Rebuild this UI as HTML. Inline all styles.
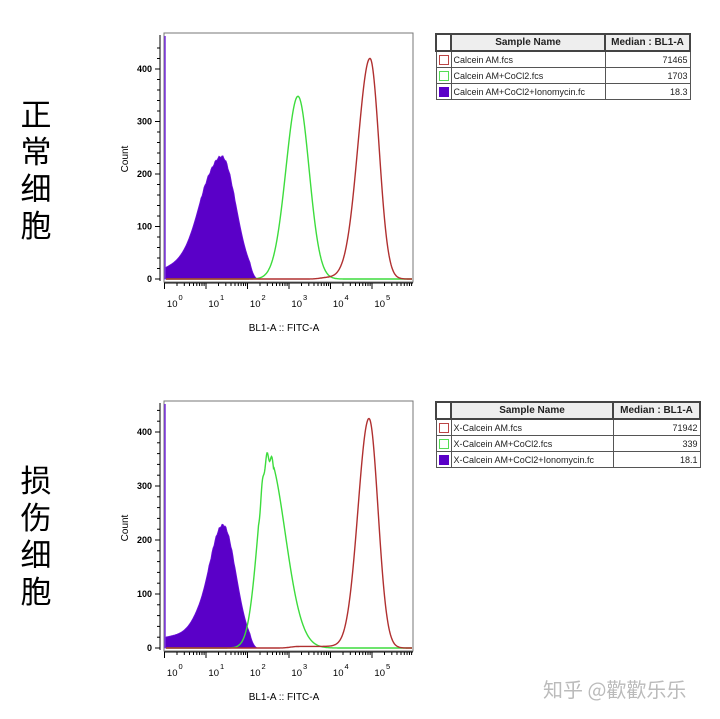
<!DOCTYPE html>
<html><head><meta charset="utf-8"><style>
body{margin:0;background:#fff;width:720px;height:719px;overflow:hidden;position:relative;font-family:"Liberation Sans",Arial,sans-serif}
.cn{position:absolute;font-family:"Noto Sans CJK SC","WenQuanYi Zen Hei",sans-serif;font-size:31px;line-height:37px;width:40px;text-align:center;color:#000}
table{position:absolute;border-collapse:collapse;font-size:9px;color:#222}
td{border:1px solid #555;height:15px;padding:0 2px;white-space:nowrap;overflow:hidden}
th{border:2px solid #444;background:#eee;font-size:10px;height:15px;padding:0}
.b{display:inline-block;width:8px;height:8px;border:1px solid;vertical-align:middle}
</style></head><body>
<div class="cn" style="left:16px;top:94px">正<br>常<br>细<br>胞</div>
<div class="cn" style="left:16px;top:460px">损<br>伤<br>细<br>胞</div>
<svg width="720" height="719" style="position:absolute;left:0;top:0" font-family="Liberation Sans, Arial, sans-serif">
<g id="p1"></g><g id="p2"></g>
<text x="543" y="697" font-family="Noto Sans CJK SC, sans-serif" font-size="20" fill="#bbb">知乎 @歡歡乐乐</text>
</svg>
<table style="left:435px;top:33px;width:256px">
<tr><th style="width:12px;background:#fff"></th><th style="width:152px">Sample Name</th><th>Median : BL1-A</th></tr>
<tr><td><span class="b" style="border-color:#b44"></span></td><td>Calcein AM.fcs</td><td style="text-align:right">71465</td></tr>
<tr><td><span class="b" style="border-color:#5d5"></span></td><td>Calcein AM+CoCl2.fcs</td><td style="text-align:right">1703</td></tr>
<tr><td><span class="b" style="background:#5a00c8;border-color:#5a00c8"></span></td><td style="max-width:152px">Calcein AM+CoCl2+Ionomycin.fc</td><td style="text-align:right">18.3</td></tr>
</table>
<table style="left:435px;top:401px;width:266px">
<tr><th style="width:12px;background:#fff"></th><th style="width:160px">Sample Name</th><th>Median : BL1-A</th></tr>
<tr><td><span class="b" style="border-color:#b44"></span></td><td>X-Calcein AM.fcs</td><td style="text-align:right">71942</td></tr>
<tr><td><span class="b" style="border-color:#5d5"></span></td><td>X-Calcein AM+CoCl2.fcs</td><td style="text-align:right">339</td></tr>
<tr><td><span class="b" style="background:#5a00c8;border-color:#5a00c8"></span></td><td style="max-width:160px">X-Calcein AM+CoCl2+Ionomycin.fc</td><td style="text-align:right">18.1</td></tr>
</table>
<script>
function g(x,mu,h,sl,sr){var s=x<mu?sl:sr;return h*Math.exp(-0.5*Math.pow((x-mu)/s,2));}
function sig(x,c,w){return 1/(1+Math.exp((x-c)/w));}
function draw(id,top,y0,s,purp,grn,red){
 var e=document.getElementById(id),h='';
 var L=164,R=413;
 h+='<rect x="'+L+'" y="'+top+'" width="'+(R-L)+'" height="'+(y0+3-top)+'" fill="none" stroke="#777" stroke-width="1"/>';
 var p='M165,'+y0;
 for(var x=165;x<=262;x++){var c=purp(x);p+=' L'+x+','+(y0-c*s).toFixed(1);}
 p+=' L262,'+y0+'Z';
 h+='<path d="'+p+'" fill="#5a00c8" stroke="#6a10d8" stroke-width="0.8"/>';
 h+='<line x1="165" y1="'+(top+3)+'" x2="165" y2="'+y0+'" stroke="#7a30e0" stroke-width="1.5"/>';
 function line(f,col){var q='';for(var x=166;x<=412;x+=0.5){q+=(q?' L':'M')+x+','+(y0-f(x)*s).toFixed(1);}return '<path d="'+q+'" fill="none" stroke="'+col+'" stroke-width="1.4"/>';}
 h+=line(grn,'#3ddc3d');h+=line(red,'#b03030');
 h+='<line x1="160" y1="'+(top+2)+'" x2="160" y2="'+(y0+2)+'" stroke="#000"/>';
 for(var v=0;v<=400;v+=100){var y=y0-v*s;h+='<line x1="155" y1="'+y+'" x2="160" y2="'+y+'" stroke="#000"/><text x="152" y="'+(y+3)+'" font-size="9" font-weight="bold" text-anchor="end">'+v+'</text>';}
 for(var v=20;v<=440;v+=20){var y=y0-v*s;if(v%100)h+='<line x1="157" y1="'+y+'" x2="160" y2="'+y+'" stroke="#000"/>';}
 var ay=y0+4;
 h+='<line x1="164" y1="'+ay+'" x2="413" y2="'+ay+'" stroke="#000"/>';
 for(var d=0;d<6;d++){var x0=164.5+d*41.5;h+='<line x1="'+x0+'" y1="'+ay+'" x2="'+x0+'" y2="'+(ay+6)+'" stroke="#000"/>';
  for(var k=2;k<10;k++){var xx=x0+Math.log10(k)*41.5;if(xx<412)h+='<line x1="'+xx+'" y1="'+ay+'" x2="'+xx+'" y2="'+(ay+3)+'" stroke="#000"/>';}
  h+='<text x="'+(x0+13)+'" y="'+(ay+24)+'" font-size="9.5" text-anchor="end">10</text><text x="'+(x0+14)+'" y="'+(ay+17)+'" font-size="7.5">'+d+'</text>';}
 h+='<text transform="translate(128,'+(y0-120)+') rotate(-90)" font-size="10" text-anchor="middle">Count</text>';
 h+='<text x="284" y="'+(ay+48)+'" font-size="10" text-anchor="middle">BL1-A :: FITC-A</text>';
 e.innerHTML=h;
}
draw('p1',33,279,0.525,
 function(x){var v=g(x,222,232,18,14)+(20+(x-165)*0.6)*sig(x,208,4);if(x>250)v*=Math.max(0,(257-x)/7);return Math.max(0,v+2*Math.sin(x*1.7)*(v>150?1:0));},
 function(x){return g(x,298,348,12,11);},
 function(x){return g(x,370,420,12,9)+3*sig(-x,-320,3)*sig(x,360,3);});
draw('p2',401,648,0.54,
 function(x){var v=g(x,223,228,15,13)+(20+(x-165)*0.3)*sig(x,200,4);if(x>250)v*=Math.max(0,(257-x)/7);return Math.max(0,v+2*Math.sin(x*1.9)*(v>150?1:0));},
 function(x){return g(x,268,355,10,17)+8*Math.sin(x*1.3)*(Math.abs(x-266)<8?1:0);},
 function(x){return g(x,369,425,11,9)+3*sig(-x,-290,3)*sig(x,340,3);});
</script>
</body></html>
